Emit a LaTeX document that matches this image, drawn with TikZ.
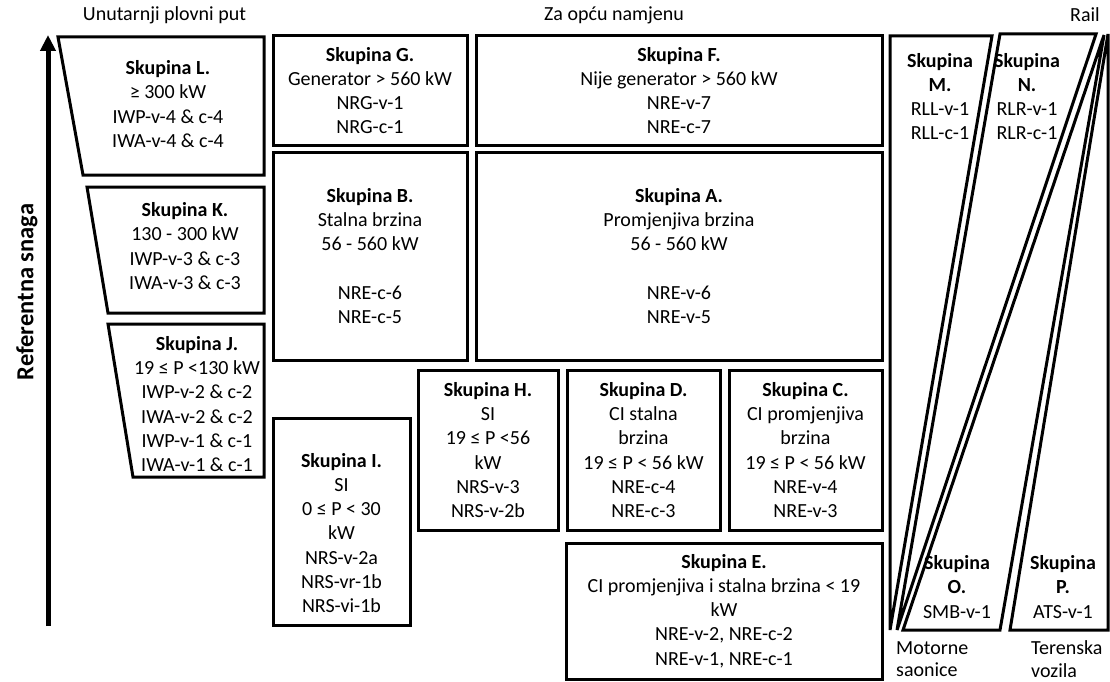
\documentclass[tikz,border=0pt]{standalone}
\usepackage{fontspec}
\setmainfont{Carlito}
\usetikzlibrary{arrows.meta}
\begin{document}
\begin{tikzpicture}[x=1pt,y=-1pt,
  every node/.style={font=\fontsize{20}{24.2}\selectfont},
  box/.style={draw, line width=3pt, align=center, inner sep=0pt},
  shp/.style={draw, line width=3pt},
  txt/.style={align=center, inner sep=0pt},
  head/.style={inner sep=0pt},
  foot/.style={anchor=west, align=left, inner sep=0pt, font=\fontsize{20}{22.5}\selectfont}]
\useasboundingbox (0,0) rectangle (1110,682);

% headings
\node[head] (h1) at (164.5,15) {Unutarnji plovni put};
\node[head] (h2) at (614,15) {Za opću namjenu};
\node[head] (h3) at (1085,15) {Rail};

% axis arrow
\coordinate (arrbot) at (48,626);
\coordinate (arrtop) at (48,35);
\draw[line width=5pt, -{Triangle[length=16pt,width=15pt]}] (arrbot) -- (arrtop);
\node[rotate=90, font=\fontsize{24.5}{28}\selectfont\bfseries, inner sep=0pt] (ylab) at (27,292) {Referentna snaga};

% inland waterway trapezoids
\draw[shp] (58,37) -- (264,37) -- (264,175) -- (83,175) -- cycle;
\node[txt] (l) at (168,104) {\textbf{Skupina L.}\\ ≥ 300 kW\\ IWP-v-4 \& c-4\\ IWA-v-4 \& c-4};
\draw[shp] (87,187) -- (264,187) -- (264,313) -- (108,313) -- cycle;
\node[txt] (k) at (185,246) {\textbf{Skupina K.}\\ 130 - 300 kW\\ IWP-v-3 \& c-3\\ IWA-v-3 \& c-3};
\draw[shp] (108,324) -- (264,324) -- (264,477) -- (133,477) -- cycle;
\node[txt] (j) at (197,404) {\textbf{Skupina J.}\\ 19 ≤ P <130 kW\\ IWP-v-2 \& c-2\\ IWA-v-2 \& c-2\\ IWP-v-1 \& c-1\\ IWA-v-1 \& c-1};

% general purpose boxes
\node[box, minimum width=194pt, minimum height=109pt] (g) at (370,90.5) {\textbf{Skupina G.}\\ Generator > 560 kW\\ NRG-v-1\\ NRG-c-1};
\node[box, minimum width=406pt, minimum height=109pt] (f) at (679,90.5) {\textbf{Skupina F.}\\ Nije generator > 560 kW\\ NRE-v-7\\ NRE-c-7};
\node[box, minimum width=194pt, minimum height=208pt] (b) at (370,256) {\textbf{Skupina B.}\\ Stalna brzina\\ 56 - 560 kW\\ ~\\ NRE-c-6\\ NRE-c-5};
\node[box, minimum width=406pt, minimum height=208pt] (a) at (679,256) {\textbf{Skupina A.}\\ Promjenjiva brzina\\ 56 - 560 kW\\ ~\\ NRE-v-6\\ NRE-v-5};
\node[box, minimum width=140pt, minimum height=160pt] (hh) at (488,450) {\textbf{Skupina H.}\\ SI\\ 19 ≤ P <56\\ kW\\ NRS-v-3\\ NRS-v-2b};
\node[box, minimum width=153pt, minimum height=160pt] (d) at (643.5,450) {\textbf{Skupina D.}\\ CI stalna\\ brzina\\ 19 ≤ P < 56 kW\\ NRE-c-4\\ NRE-c-3};
\node[box, minimum width=153pt, minimum height=160pt] (c) at (805.5,450) {\textbf{Skupina C.}\\ CI promjenjiva\\ brzina\\ 19 ≤ P < 56 kW\\ NRE-v-4\\ NRE-v-3};
\node[box, minimum width=137pt, minimum height=207pt] (ibox) at (341.5,521.5) {};
\node[txt] (i) at (341.5,533) {\textbf{Skupina I.}\\ SI\\ 0 ≤ P < 30\\ kW\\ NRS-v-2a\\ NRS-vr-1b\\ NRS-vi-1b};
\node[box, minimum width=316pt, minimum height=136pt] (e) at (724,611) {\textbf{Skupina E.}\\ CI promjenjiva i stalna brzina < 19\\ kW\\ NRE-v-2, NRE-c-2\\ NRE-v-1, NRE-c-1};

% rail and other slanted shapes
\draw[shp] (890,36) -- (992,36) -- (890,630) -- cycle;
\draw[shp] (1000,34) -- (1096,34) -- (897,630) -- cycle;
\draw[shp] (1104,35) -- (1000,630) -- (903,630) -- cycle;
\draw[shp] (1108,34) -- (1108,630) -- (1010,630) -- cycle;
\node[txt] (m) at (940,96.5) {\textbf{Skupina}\\ \textbf{M.}\\ RLL-v-1\\ RLL-c-1};
\node[txt] (n) at (1027,96.5) {\textbf{Skupina}\\ \textbf{N.}\\ RLR-v-1\\ RLR-c-1};
\node[txt] (o) at (957,587) {\textbf{Skupina}\\ \textbf{O.}\\ SMB-v-1};
\node[txt] (p) at (1063,587) {\textbf{Skupina}\\ \textbf{P.}\\ ATS-v-1};

\node[foot] (ms) at (896,659) {Motorne\\ saonice};
\node[foot] (tv) at (1031,659) {Terenska\\ vozila};
\end{tikzpicture}
\end{document}
